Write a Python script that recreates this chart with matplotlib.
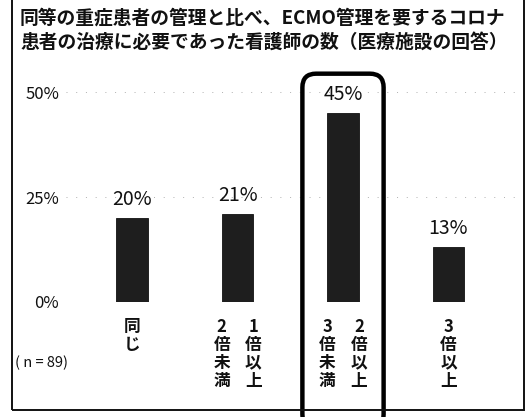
#!/usr/bin/env python3
"""ECMO nursing staff bar chart (scanned-look recreation)."""

import matplotlib
matplotlib.use("Agg")
import matplotlib.pyplot as plt
from matplotlib.patches import Rectangle, FancyBboxPatch

plt.rcParams["font.family"] = ["Noto Sans CJK JP", "DejaVu Sans"]

# ── Data ──────────────────────────────────────────────────────────────────────
TITLE = ("同等の重症患者の管理と比べ、ECMO管理を要するコロナ\n"
         "患者の治療に必要であった看護師の数（医療施設の回答）")
CATEGORIES = ["同じ", "1倍以上2倍未満", "2倍以上3倍未満", "3倍以上"]
# vertical label columns, read right to left
LABEL_COLUMNS = [["同じ"], ["1倍以上", "2倍未満"], ["2倍以上", "3倍未満"], ["3倍以上"]]
VALUES = [20, 21, 45, 13]
Y_TICKS = [0, 25, 50]
N_NOTE = "( n = 89)"
HIGHLIGHT = 2

W, H, DPI = 530, 417, 100


def main():
    fig = plt.figure(figsize=(W / DPI, H / DPI), dpi=DPI, facecolor="white")
    # axes placed in pixel terms: left 66, right 520, bottom 115, top 345
    ax = fig.add_axes([66 / W, 115 / H, (520 - 66) / W, (345 - 115) / H])

    x = list(range(len(CATEGORIES)))
    ax.bar(x, VALUES, width=0.30, color="#1e1e1e", edgecolor="#111111",
           linewidth=0.6, zorder=3)

    for yv in Y_TICKS:
        ax.axhline(yv, color="#b0b0b0", lw=0.7, ls=(0, (1, 9)), zorder=1)

    for xi, v in zip(x, VALUES):
        ax.annotate(f"{v}%", (xi, v), xytext=(0, 6), textcoords="offset points",
                    ha="center", va="bottom", fontsize=14, color="#111111")

    ax.set_xlim(-0.626, 3.678)
    ax.set_ylim(0, 54.8)
    ax.set_yticks(Y_TICKS)
    ax.set_yticklabels([f"{t}%" for t in Y_TICKS], fontsize=12, color="#111111")
    ax.tick_params(axis="y", length=0, pad=5)
    ax.set_xticks([])
    for s in ax.spines.values():
        s.set_visible(False)

    # vertical category labels under the bars
    tr = ax.get_xaxis_transform()
    for xi, cols in zip(x, LABEL_COLUMNS):
        n = len(cols)
        for j, col in enumerate(cols):
            off = 0.0 if n == 1 else (0.15 - 0.30 * j)
            ax.text(xi + off, -0.07, "\n".join(col), transform=tr,
                    ha="center", va="top", fontsize=12, linespacing=1.0,
                    fontweight="bold", color="#111111")

    fig.text(15 / W, 1 - 363 / H, N_NOTE, fontsize=10.5, ha="left",
             va="center", color="#111111")

    # title
    fig.text(20 / W, 1 - 9 / H, TITLE, fontsize=13.5, fontweight="bold",
             ha="left", va="top", linespacing=1.3, color="#111111")

    # outer frame
    fig.patches.append(Rectangle((12 / W, 7 / H), (524 - 12) / W, 1.2,
                                 transform=fig.transFigure, fill=False,
                                 ec="#111111", lw=1.4))

    # rounded highlight round the 45% bar
    hx = HIGHLIGHT
    box = FancyBboxPatch((hx - 0.385, -30), 0.77, 30 + 54.4,
                         boxstyle="round,pad=0,rounding_size=0.13",
                         mutation_aspect=105.5 / 4.2, fill=False,
                         ec="black", lw=3.2, clip_on=False, zorder=5)
    ax.add_patch(box)

    fig.savefig("out.png", dpi=DPI, facecolor="white")
    plt.close(fig)


if __name__ == "__main__":
    main()
